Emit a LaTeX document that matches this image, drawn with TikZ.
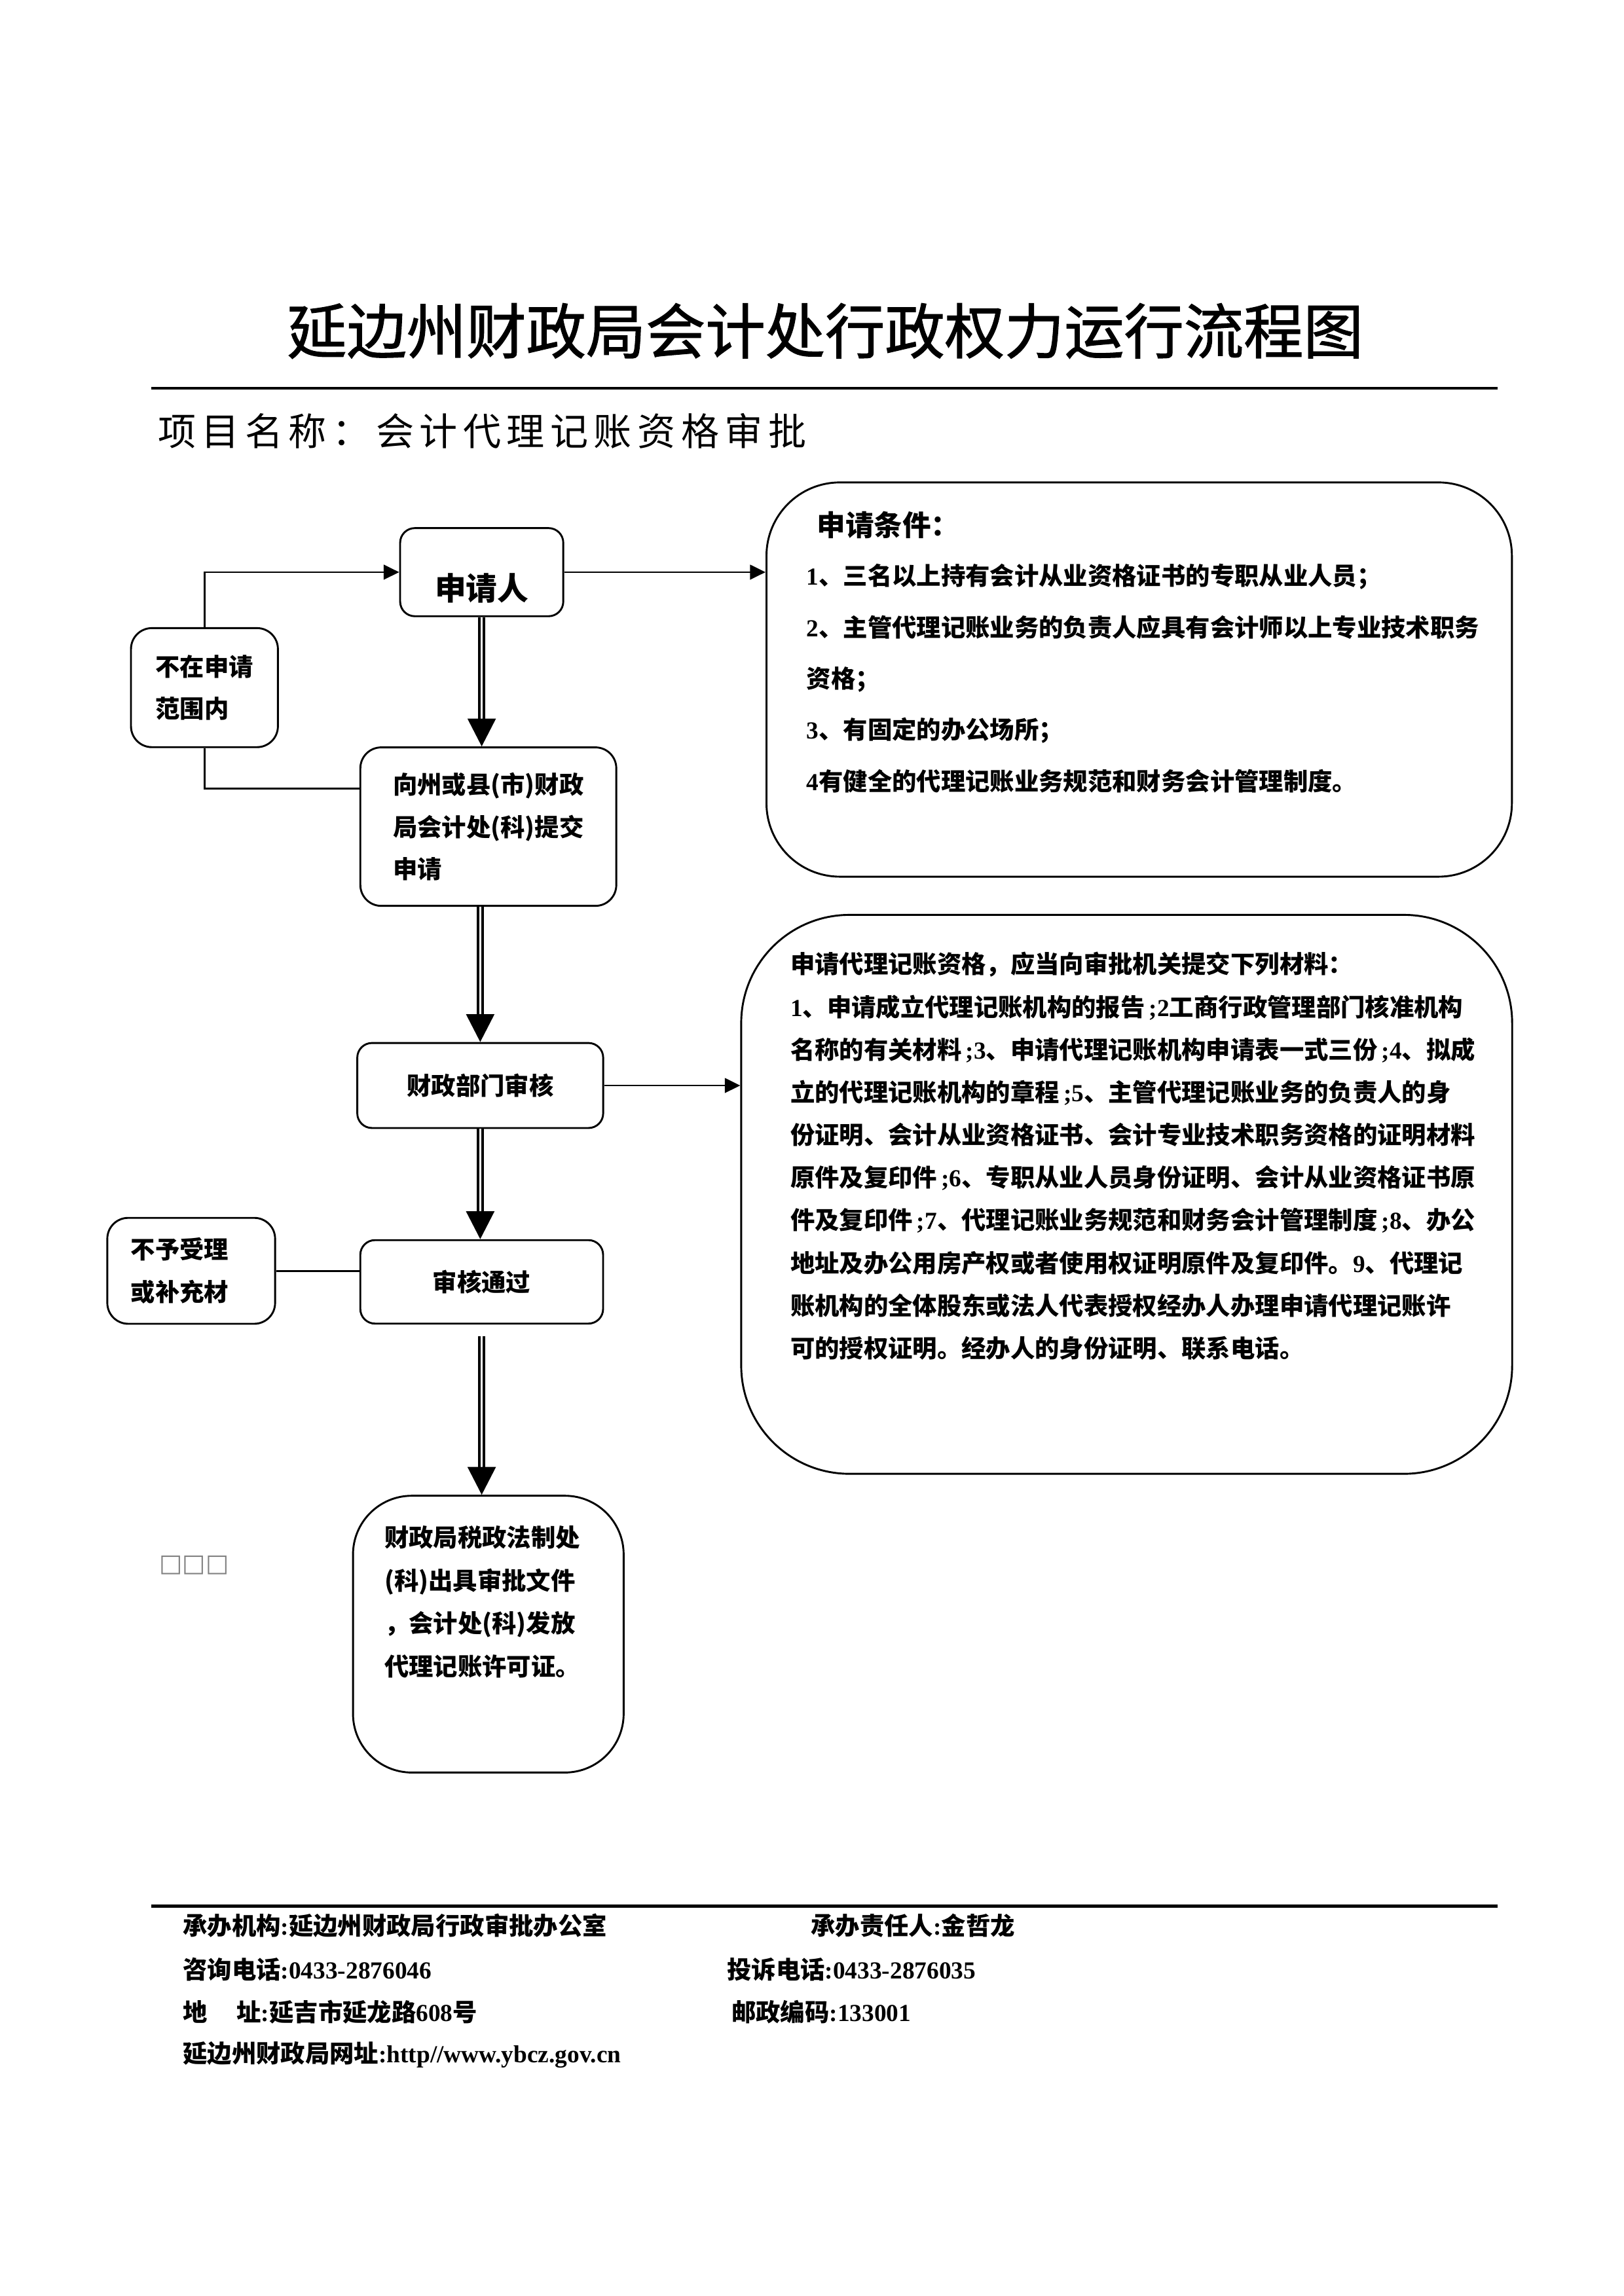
\documentclass[tikz,border=0pt]{standalone}
\usepackage{fontspec}
\setmainfont{Noto Sans CJK SC}
\newfontfamily\lat{Liberation Serif}
\newfontfamily\titlefont{Noto Sans CJK SC}[FakeBold=1.3]
\newfontfamily\spaced{Noto Sans CJK SC}[LetterSpace=14.6]
\newfontfamily\symb{DejaVu Sans}
\usetikzlibrary{arrows.meta,positioning,calc}

\tikzset{
  box/.style={draw, rectangle, rounded corners=2.7mm, line width=0.7pt, inner sep=0pt,
    align=left, font=\fontsize{9}{15.6}\selectfont\bfseries},
  flow/.style={double, double distance=0.7pt, line width=1pt,
    -{Triangle[width=3.6mm,length=3.6mm]}},
  link/.style={line width=0.7pt},
  linkarrow/.style={link, -{Triangle[width=1.9mm,length=2mm]}},
  txt/.style={inner sep=0pt, anchor=north west, align=left},
  foot/.style={inner sep=0pt, anchor=west, font=\fontsize{9}{9}\selectfont\bfseries},
}

\begin{document}
\begin{tikzpicture}[x=0.19022mm, y=-0.19026mm]
    \useasboundingbox (0,0) rectangle (1104,1561);

    \node[font=\titlefont\fontsize{22}{22}\selectfont] (title) at (561,225) {延边州财政局会计处行政权力运行流程图};
    \draw[line width=1.1pt] (103,264) -- (1018,264);
    \node[inner sep=0pt, anchor=west, font=\spaced\fontsize{14}{14}\selectfont] (item) at (107,293) {项目名称：会计代理记账资格审批};

    \node[box, minimum width=21.1mm, minimum height=11.4mm, rounded corners=1.9mm,
      font=\fontsize{11.5}{12}\selectfont\bfseries] (apply) at (327.5,389) {\raisebox{-3.6mm}[0pt][0pt]{申请人}};
    \node[box] (outscope) at (139,467.5) [minimum width=19mm, minimum height=15.4mm] {不在申请\\范围内};
    \node[box, minimum width=33.1mm, minimum height=20.5mm] (submit) at (332,562) {向州或县(市)财政\\局会计处(科)提交\\申请};
    \node[box, minimum width=31.8mm, minimum height=11mm, rounded corners=1.9mm] (review) at (326.5,738) {财政部门审核};
    \node[box, minimum width=31.4mm, minimum height=10.8mm, rounded corners=1.9mm] (passed) at (327.5,871.5) {审核通过};
    \node[box, minimum width=21.7mm, minimum height=13.7mm, text width=15.6mm, inner xsep=3mm] (reject) at (130,864) {不予受理\\或补充材};
    \node[box, minimum width=35mm, minimum height=35.8mm, rounded corners=7.6mm] (issue) at (332,1111) {};
    \node[box, minimum width=96.4mm, minimum height=51mm, rounded corners=9.5mm] (cond) at (774.5,462) {};
    \node[box, minimum width=99.7mm, minimum height=72.3mm, rounded corners=14mm] (docs) at (766,812) {};

    \node[inner sep=0pt, anchor=west, font=\fontsize{10.5}{12}\selectfont\bfseries] (condhead) at (555,357) {申请条件：};
    \node[txt, font=\fontsize{9}{18.9}\selectfont\bfseries] (condlist) at (548,383) {%
      {\lat 1}、三名以上持有会计从业资格证书的专职从业人员；\\
      {\lat 2}、主管代理记账业务的负责人应具有会计师以上专业技术职务\\
      资格；\\
      {\lat 3}、有固定的办公场所；\\
      {\lat 4}有健全的代理记账业务规范和财务会计管理制度。};
    \node[txt, font=\fontsize{9}{15.7}\selectfont\bfseries] (docslist) at (537,647) {%
      申请代理记账资格，应当向审批机关提交下列材料：\\
      {\lat 1}、申请成立代理记账机构的报告{\lat\,;2}工商行政管理部门核准机构\\
      名称的有关材料{\lat\,;3}、申请代理记账机构申请表一式三份{\lat\,;4}、拟成\\
      立的代理记账机构的章程{\lat\,;5}、主管代理记账业务的负责人的身\\
      份证明、会计从业资格证书、会计专业技术职务资格的证明材料\\
      原件及复印件{\lat\,;6}、专职从业人员身份证明、会计从业资格证书原\\
      件及复印件{\lat\,;7}、代理记账业务规范和财务会计管理制度{\lat\,;8}、办公\\
      地址及办公用房产权或者使用权证明原件及复印件。{\lat 9}、代理记\\
      账机构的全体股东或法人代表授权经办人办理申请代理记账许\\
      可的授权证明。经办人的身份证明、联系电话。};
    \node[txt, font=\fontsize{9}{15.8}\selectfont\bfseries] (issuelist) at (261,1037) {%
      财政局税政法制处\\
      (科)出具审批文件\\
      ，会计处(科)发放\\
      代理记账许可证。};
    \node[inner sep=0pt, anchor=west, text=gray, font=\symb\fontsize{9}{9}\selectfont] (missing) at (108,1064) {□□□};

    \draw[flow] (apply.south) -- (apply.south |- submit.north);
    \draw[flow] (review.north |- submit.south) -- (review.north);
    \draw[flow] (review.south) -- (review.south |- passed.north);
    \draw[flow, shorten <=1.5mm] (passed.south) -- (passed.south |- issue.north);
    \draw[linkarrow] (outscope.north) |- (apply.west);
    \draw[link] (outscope.south) |- ([yshift=4.95mm]submit.west);
    \draw[linkarrow] (apply.east) -- (apply.east -| cond.west);
    \draw[linkarrow] (review.east) -- (review.east -| docs.west);
    \draw[link] (reject.east) -- (reject.east -| passed.west);

    \draw[line width=1.1pt] (103,1296) -- (1018,1296);
    \node[foot] (office) at (124,1309) {承办机构{\lat :}延边州财政局行政审批办公室};
    \node[foot] (person) at (551,1309) {承办责任人{\lat :}金哲龙};
    \node[foot] (phone) at (124,1339) {咨询电话{\lat :0433-2876046}};
    \node[foot] (complain) at (494,1339) {投诉电话{\lat :0433-2876035}};
    \node[foot] (address) at (124,1368) {地\hspace{1.2em}址{\lat :}延吉市延龙路{\lat 608}号};
    \node[foot] (postcode) at (497,1368) {邮政编码{\lat :133001}};
    \node[foot] (website) at (124,1397) {延边州财政局网址{\lat :http//www.ybcz.gov.cn}};
\end{tikzpicture}
\end{document}
